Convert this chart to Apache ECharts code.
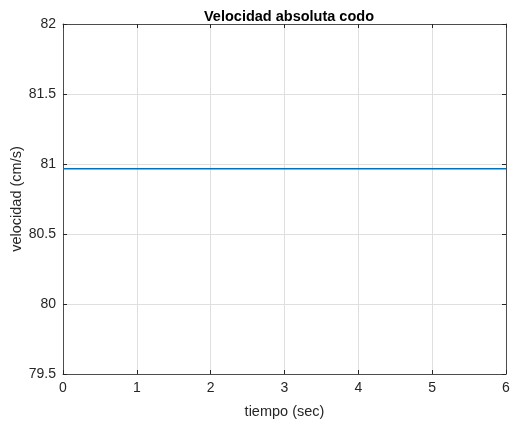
<!DOCTYPE html>
<html>
<head>
<meta charset="utf-8">
<script src="https://cdn.jsdelivr.net/npm/echarts@6/dist/echarts.min.js"></script>
<style>
html, body { margin: 0; padding: 0; background: #fff; }
#main { width: 510px; height: 421px; }
</style>
</head>
<body>
<div id="main"></div>
<script>
// datos
var tiempo = [0, 1, 2, 3, 4, 5, 6];
var velocidad = [80.966, 80.966, 80.966, 80.966, 80.966, 80.966, 80.966];
var xTicks = [0, 1, 2, 3, 4, 5, 6];
var yTicks = [79.5, 80, 80.5, 81, 81.5, 82];

var fontFam = '"Liberation Sans", Arial, sans-serif';
var axisColor = '#4d4d4d';

var serie = [];
for (var i = 0; i < tiempo.length; i++) {
    serie.push([tiempo[i], velocidad[i]]);
}

function boxAxis(pos, min, max, interval) {
    return {
        type: 'value',
        position: pos,
        min: min,
        max: max,
        interval: interval,
        axisLine: { show: true, onZero: false, lineStyle: { color: axisColor, width: 1 } },
        axisTick: { show: true, inside: true, length: 4, lineStyle: { color: '#262626' } },
        axisLabel: { show: false },
        splitLine: { show: false }
    };
}

var dom = document.getElementById('main');
var myChart = echarts.init(dom);
var option = {
    animation: false,
    title: {
        text: 'Velocidad absoluta codo',
        left: 284,
        top: 4,
        textAlign: 'center',
        textStyle: { fontFamily: fontFam, fontSize: 14.5, fontWeight: 'bold', color: '#000' }
    },
    grid: { left: 63, right: 4, top: 24, bottom: 47, containLabel: false, outerBoundsMode: 'none' },
    xAxis: [{
        type: 'value',
        position: 'bottom',
        min: xTicks[0],
        max: xTicks[xTicks.length - 1],
        interval: 1,
        name: 'tiempo (sec)',
        nameLocation: 'middle',
        nameGap: 30,
        nameMoveOverlap: false,
        nameTextStyle: { fontFamily: fontFam, fontSize: 14.5, color: '#262626' },
        axisLine: { show: true, onZero: false, lineStyle: { color: axisColor, width: 1 } },
        axisTick: { show: true, inside: true, length: 4, lineStyle: { color: '#262626' } },
        axisLabel: { fontFamily: fontFam, fontSize: 14, color: '#262626', margin: 7 },
        splitLine: { show: true, lineStyle: { color: '#dfdfdf', width: 1 } }
    }, boxAxis('top', 0, 6, 1)],
    yAxis: [{
        type: 'value',
        position: 'left',
        min: yTicks[0],
        max: yTicks[yTicks.length - 1],
        interval: 0.5,
        name: 'velocidad (cm/s)',
        nameLocation: 'middle',
        nameGap: 39,
        nameRotate: 90,
        nameMoveOverlap: false,
        nameTextStyle: { fontFamily: fontFam, fontSize: 14.5, color: '#262626' },
        axisLine: { show: true, onZero: false, lineStyle: { color: axisColor, width: 1 } },
        axisTick: { show: true, inside: true, length: 4, lineStyle: { color: '#262626' } },
        axisLabel: { fontFamily: fontFam, fontSize: 14, color: '#262626', margin: 7,
            formatter: function (v) { return String(v); } },
        splitLine: { show: true, lineStyle: { color: '#dfdfdf', width: 1 } }
    }, boxAxis('right', 79.5, 82, 0.5)],
    series: [{
        type: 'line',
        data: serie,
        showSymbol: false,
        lineStyle: { color: '#0072bd', width: 1.5 },
        itemStyle: { color: '#0072bd' }
    }]
};
myChart.setOption(option);
</script>
</body>
</html>
